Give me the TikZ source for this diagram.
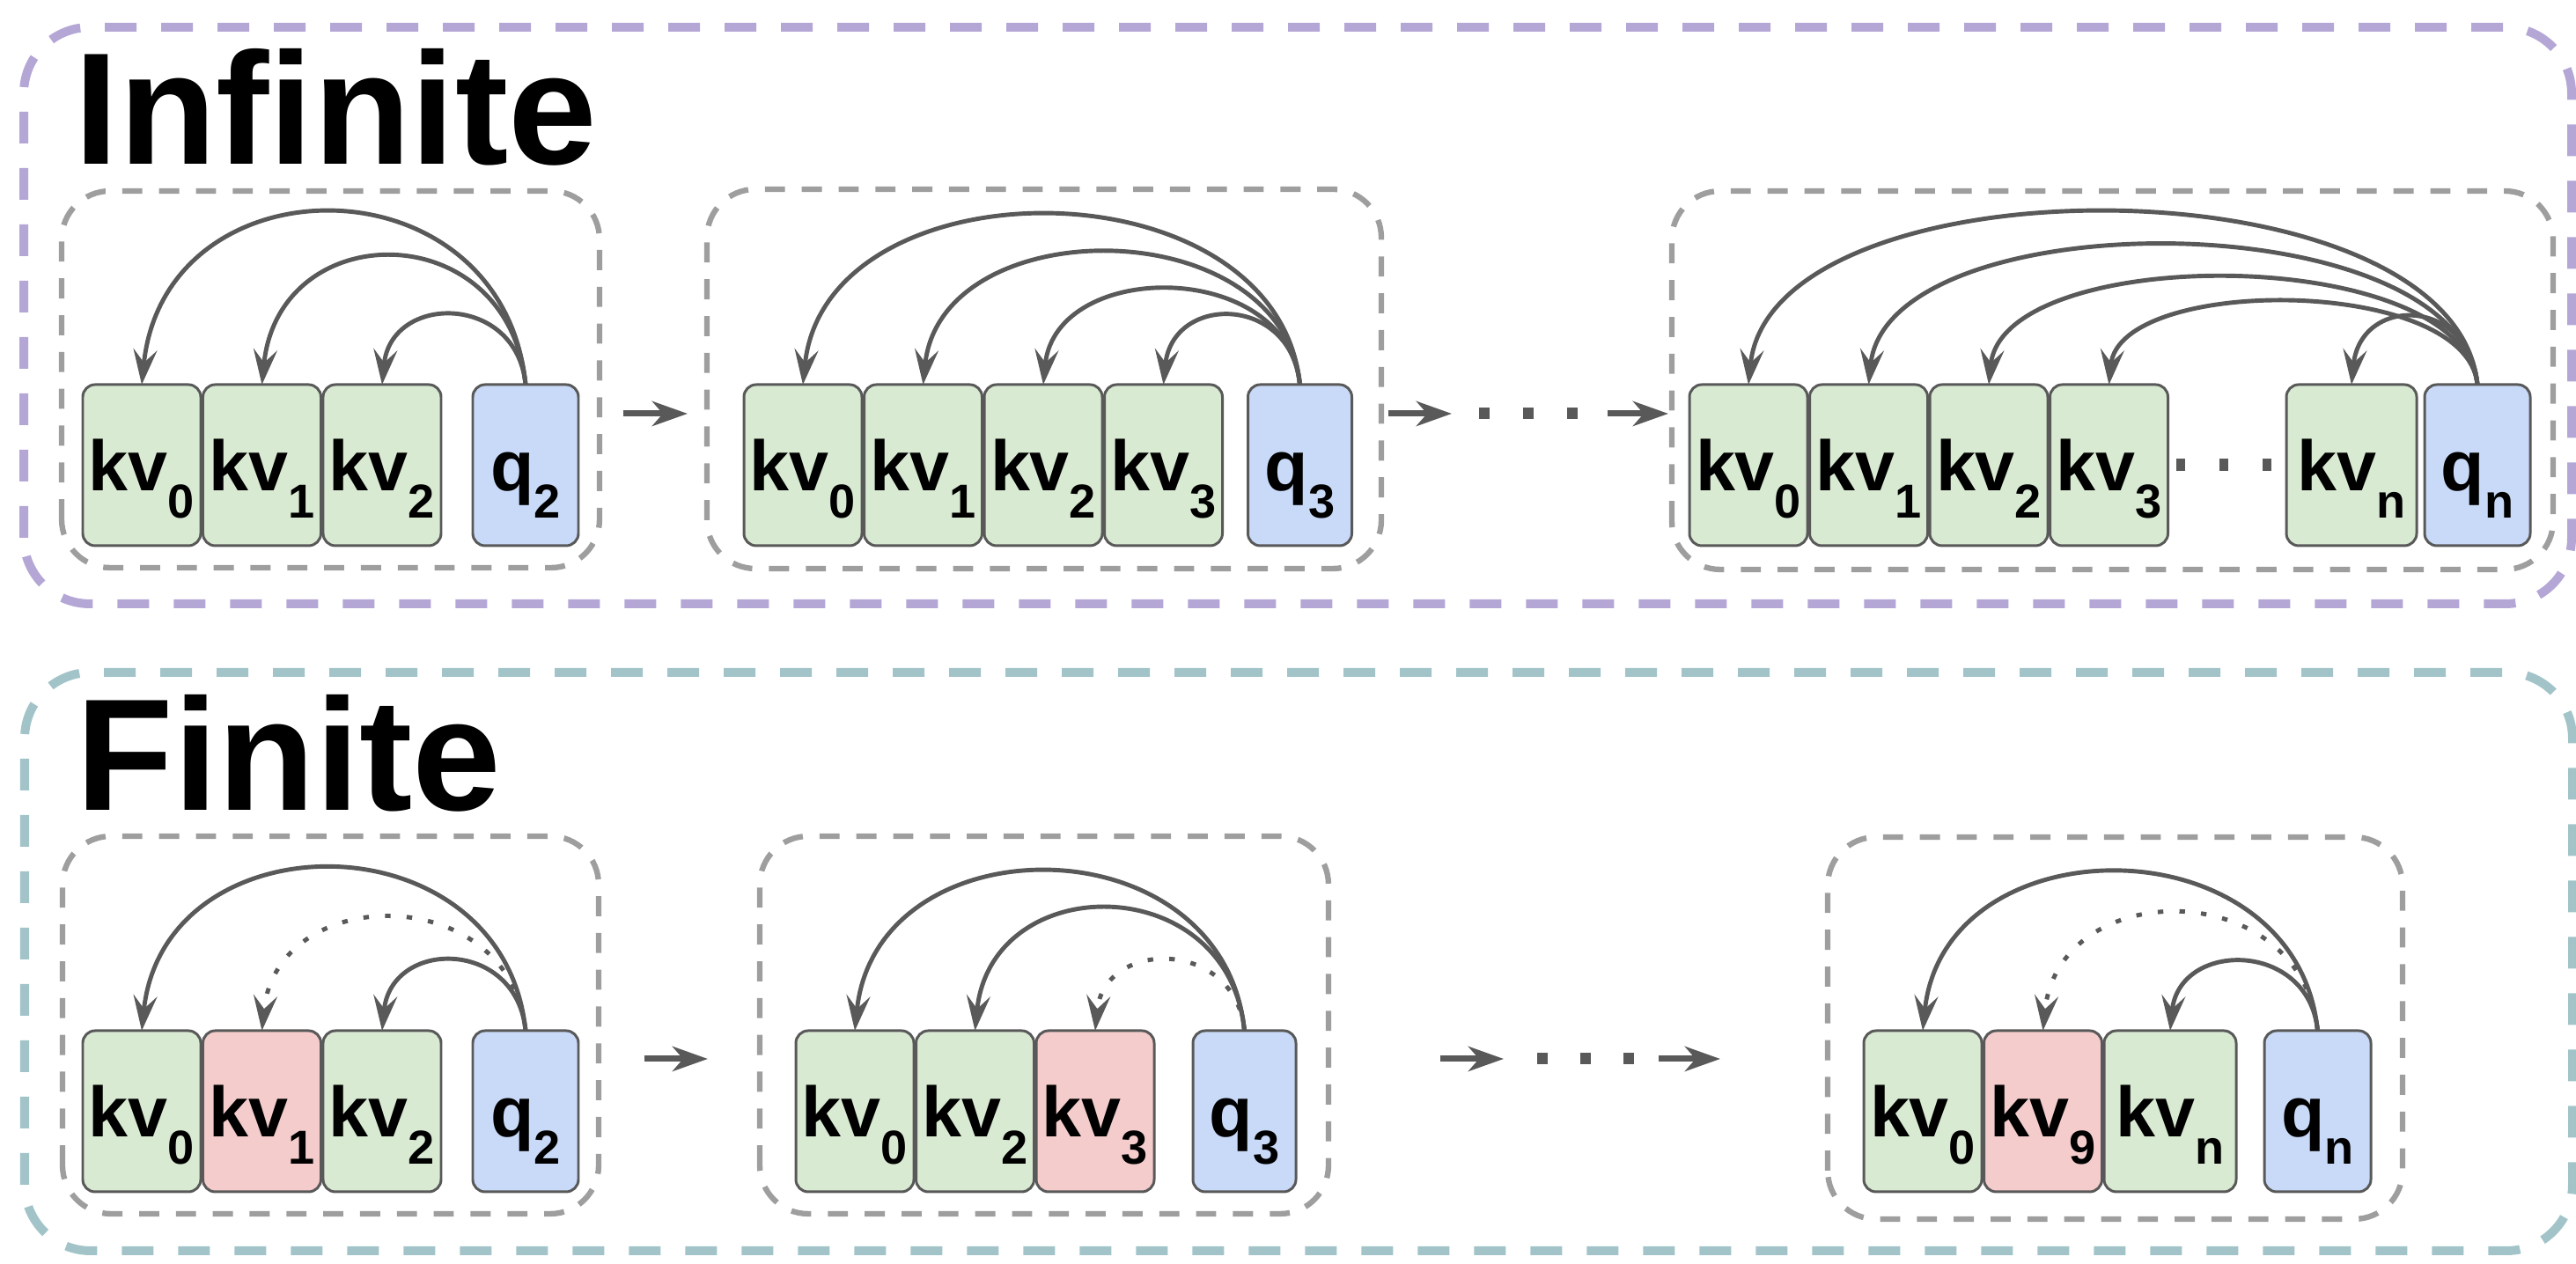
\documentclass[tikz,border=0pt]{standalone}
\usepackage{fontspec}
\setmainfont{Liberation Sans}
\usepackage{tikz}
\usetikzlibrary{positioning,arrows.meta}

\definecolor{kvgreen}{HTML}{D9EAD3}
\definecolor{kvred}{HTML}{F4CCCC}
\definecolor{qblue}{HTML}{C9DAF8}
\definecolor{edgegray}{HTML}{595959}
\definecolor{boxgray}{HTML}{9E9E9E}
\definecolor{infpurple}{HTML}{B4A7D6}
\definecolor{finteal}{HTML}{A2C4C9}

\newcommand{\idx}[1]{\raisebox{-0.31cm}{\fontsize{15.4pt}{16pt}\selectfont #1}}

\begin{document}
\begin{tikzpicture}
	\tikzstyle{cell}=[draw=edgegray,line width=0.85pt,rectangle,rounded corners=0.14cm,minimum height=1.83cm,minimum width=1.34cm,inner sep=0pt,outer sep=0pt,text height=0.58cm,text depth=0cm,font=\fontsize{23pt}{24pt}\selectfont\bfseries,anchor=west]
	\tikzstyle{kv}=[cell,fill=kvgreen]
	\tikzstyle{old}=[cell,fill=kvred]
	\tikzstyle{qry}=[cell,fill=qblue,minimum width=1.2cm]
	\tikzstyle{attn}=[draw=edgegray,line width=1.4pt,-{Stealth[length=0.4cm,width=0.27cm,inset=0.15cm]}]
	\tikzstyle{gone}=[attn,dash pattern=on 1.8pt off 5.2pt]
	\tikzstyle{panel}=[draw=boxgray,line width=1.8pt,dash pattern=on 6.5pt off 5.4pt,rounded corners=0.55cm]
	\tikzstyle{outer}=[line width=0.1cm,dash pattern=on 0.36cm off 0.28cm,rounded corners=0.75cm]
	\tikzstyle{flow}=[draw=edgegray,line width=2pt,-{Stealth[length=0.4cm,width=0.28cm,inset=0.12cm]}]
	\tikzstyle{skip}=[draw=edgegray,line width=0.13cm,dash pattern=on 0.12cm off 0.38cm]
	\tikzstyle{title}=[anchor=base west,inner sep=0pt,font=\fontsize{51.5pt}{54pt}\selectfont\bfseries]
	
	\useasboundingbox (0,0) rectangle (29.26,14.36);
	
	\draw[outer,draw=infpurple] (0.27,7.50) rectangle (29.21,14.05);
	\draw[outer,draw=finteal] (0.28,0.15) rectangle (29.22,6.72);
	\node[title] (inftitle) at (0.84,12.49) {Infinite};
	\node[title] (fintitle) at (0.86,5.15) {Finite};
	
	\draw[panel] (0.70,7.91) rectangle (6.81,12.19);
	\draw[panel] (8.03,7.90) rectangle (15.69,12.21);
	\draw[panel] (18.99,7.89) rectangle (29.00,12.19);
	\draw[panel] (0.71,0.57) rectangle (6.80,4.86);
	\draw[panel] (8.63,0.57) rectangle (15.09,4.86);
	\draw[panel] (20.76,0.51) rectangle (27.29,4.85);
	
	\node[kv] (i1kv0) at (0.94,9.075) {kv\idx{0}};
	\node[kv,right=0.025cm of i1kv0] (i1kv1) {kv\idx{1}};
	\node[kv,right=0.025cm of i1kv1] (i1kv2) {kv\idx{2}};
	\node[qry,right=0.36cm of i1kv2] (i1q) {q\idx{2}};
	
	\node[kv] (i2kv0) at (8.45,9.075) {kv\idx{0}};
	\node[kv,right=0.025cm of i2kv0] (i2kv1) {kv\idx{1}};
	\node[kv,right=0.025cm of i2kv1] (i2kv2) {kv\idx{2}};
	\node[kv,right=0.025cm of i2kv2] (i2kv3) {kv\idx{3}};
	\node[qry,right=0.29cm of i2kv3,minimum width=1.18cm] (i2q) {q\idx{3}};
	
	\node[kv] (i3kv0) at (19.19,9.075) {kv\idx{0}};
	\node[kv,right=0.025cm of i3kv0] (i3kv1) {kv\idx{1}};
	\node[kv,right=0.025cm of i3kv1] (i3kv2) {kv\idx{2}};
	\node[kv,right=0.025cm of i3kv2] (i3kv3) {kv\idx{3}};
	\node[kv,minimum width=1.48cm] (i3kvn) at (25.97,9.075) {kv\idx{n}};
	\node[qry,right=0.09cm of i3kvn] (i3q) {q\idx{n}};
	
	\node[kv] (f1kv0) at (0.94,1.735) {kv\idx{0}};
	\node[old,right=0.025cm of f1kv0] (f1kv1) {kv\idx{1}};
	\node[kv,right=0.025cm of f1kv1] (f1kv2) {kv\idx{2}};
	\node[qry,right=0.36cm of f1kv2] (f1q) {q\idx{2}};
	
	\node[kv] (f2kv0) at (9.04,1.735) {kv\idx{0}};
	\node[kv,right=0.025cm of f2kv0] (f2kv2) {kv\idx{2}};
	\node[old,right=0.025cm of f2kv2] (f2kv3) {kv\idx{3}};
	\node[qry,right=0.44cm of f2kv3,minimum width=1.17cm] (f2q) {q\idx{3}};
	
	\node[kv] (f3kv0) at (21.17,1.735) {kv\idx{0}};
	\node[old,right=0.025cm of f3kv0] (f3kv9) {kv\idx{9}};
	\node[kv,right=0.025cm of f3kv9,minimum width=1.5cm] (f3kvn) {kv\idx{n}};
	\node[qry,right=0.32cm of f3kvn,minimum width=1.21cm] (f3q) {q\idx{n}};
	
	\draw[skip,shorten <=0.095cm,shorten >=0.15cm,line width=0.14cm,dash pattern=on 0.1cm off 0.39cm] (i3kv3.east) -- (i3kvn.west);
	
	\coordinate (ia) at (7.08,9.66);
	\coordinate (ib) at (7.81,9.66);
	\coordinate (ic) at (15.77,9.66);
	\coordinate (id) at (16.49,9.66);
	\coordinate (ie) at (18.26,9.66);
	\coordinate (if) at (18.95,9.66);
	\draw[flow] (ia) -- (ib);
	\draw[flow] (ic) -- (id);
	\draw[skip,shorten <=0.31cm,shorten >=0.34cm] (id) -- (ie);
	\draw[flow] (ie) -- (if);
	
	\coordinate (fa) at (7.32,2.33);
	\coordinate (fb) at (8.04,2.33);
	\coordinate (fc) at (16.36,2.33);
	\coordinate (fd) at (17.08,2.33);
	\coordinate (fe) at (18.84,2.33);
	\coordinate (ff) at (19.54,2.33);
	\draw[flow] (fa) -- (fb);
	\draw[flow] (fc) -- (fd);
	\draw[skip,shorten <=0.38cm,shorten >=0.28cm,dash pattern=on 0.12cm off 0.37cm] (fd) -- (fe);
	\draw[flow] (fe) -- (ff);
	
	\draw[attn] (i1q.north) .. controls +(-0.26,2.6) and +(0.26,2.6) .. (i1kv0.north);
	\draw[attn] (i1q.north) .. controls +(-0.19,1.93) and +(0.19,1.93) .. (i1kv1.north);
	\draw[attn] (i1q.north) .. controls +(-0.1,1.04) and +(0.1,1.04) .. (i1kv2.north);
	
	\draw[attn] (i2q.north) .. controls +(-0.26,2.56) and +(0.26,2.56) .. (i2kv0.north);
	\draw[attn] (i2q.north) .. controls +(-0.2,1.99) and +(0.2,1.99) .. (i2kv1.north);
	\draw[attn] (i2q.north) .. controls +(-0.14,1.43) and +(0.14,1.43) .. (i2kv2.north);
	\draw[attn] (i2q.north) .. controls +(-0.1,1.03) and +(0.1,1.03) .. (i2kv3.north);
	
	\draw[attn] (i3q.north) .. controls +(-0.26,2.6) and +(0.26,2.6) .. (i3kv0.north);
	\draw[attn] (i3q.north) .. controls +(-0.21,2.1) and +(0.21,2.1) .. (i3kv1.north);
	\draw[attn] (i3q.north) .. controls +(-0.16,1.61) and +(0.16,1.61) .. (i3kv2.north);
	\draw[attn] (i3q.north) .. controls +(-0.12,1.24) and +(0.12,1.24) .. (i3kv3.north);
	\draw[attn] (i3q.north) .. controls +(-0.1,1.01) and +(0.1,1.01) .. (i3kvn.north);
	
	\draw[attn] (f1q.north) .. controls +(-0.25,2.45) and +(0.25,2.45) .. (f1kv0.north);
	\draw[gone] (f1q.north) .. controls +(-0.17,1.7) and +(0.17,1.7) .. (f1kv1.north);
	\draw[attn] (f1q.north) .. controls +(-0.1,1.05) and +(0.1,1.05) .. (f1kv2.north);
	
	\draw[attn] (f2q.north) .. controls +(-0.24,2.4) and +(0.24,2.4) .. (f2kv0.north);
	\draw[attn] (f2q.north) .. controls +(-0.18,1.84) and +(0.18,1.84) .. (f2kv2.north);
	\draw[gone] (f2q.north) .. controls +(-0.1,1.05) and +(0.1,1.05) .. (f2kv3.north);
	
	\draw[attn] (f3q.north) .. controls +(-0.24,2.39) and +(0.24,2.39) .. (f3kv0.north);
	\draw[gone] (f3q.north) .. controls +(-0.18,1.77) and +(0.18,1.77) .. (f3kv9.north);
	\draw[attn] (f3q.north) .. controls +(-0.1,1.03) and +(0.1,1.03) .. (f3kvn.north);
\end{tikzpicture}
\end{document}
